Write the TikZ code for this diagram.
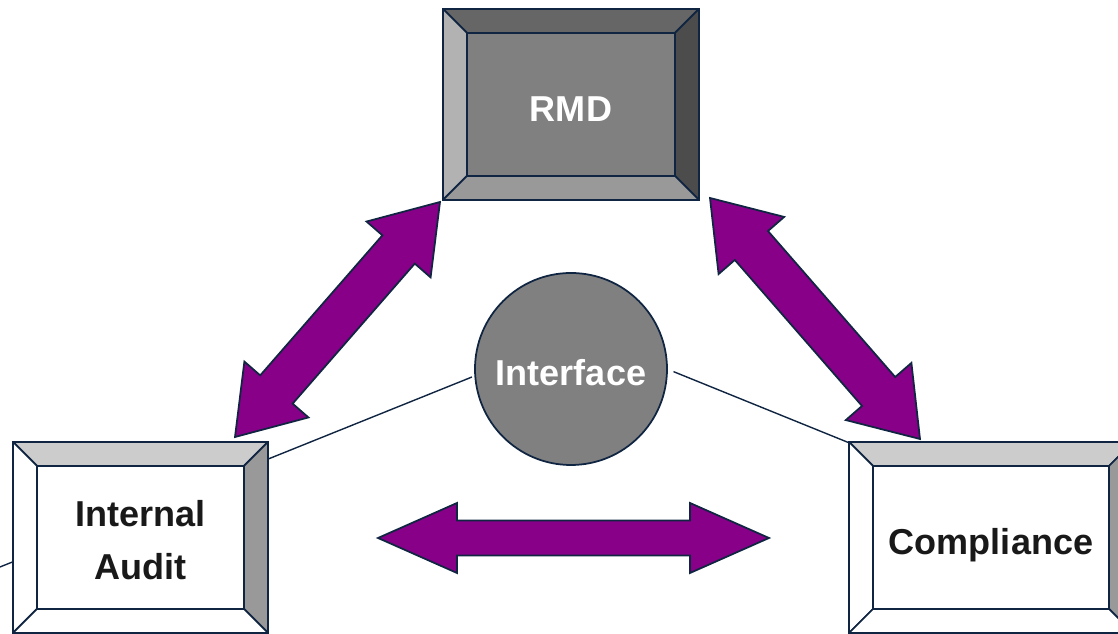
\documentclass[tikz,border=0pt]{standalone}
\usepackage{fontspec}
\setmainfont{Liberation Sans}
\usetikzlibrary{calc}
\definecolor{outline}{RGB}{16,37,66}
\definecolor{plum}{RGB}{136,0,136}

% frame of four bevel faces round a box node: node, top, left, right, bottom
\newcommand\bevelframe[5]{%
  \draw[frame,fill=#2] (#1.north west) -- (#1.north east) -- ([shift={(-\bv,-\bv)}]#1.north east) -- ([shift={(\bv,-\bv)}]#1.north west) -- cycle;
  \draw[frame,fill=#3] (#1.north west) -- ([shift={(\bv,-\bv)}]#1.north west) -- ([shift={(\bv,\bv)}]#1.south west) -- (#1.south west) -- cycle;
  \draw[frame,fill=#4] (#1.north east) -- (#1.south east) -- ([shift={(-\bv,\bv)}]#1.south east) -- ([shift={(-\bv,-\bv)}]#1.north east) -- cycle;
  \draw[frame,fill=#5] (#1.south west) -- ([shift={(\bv,\bv)}]#1.south west) -- ([shift={(-\bv,\bv)}]#1.south east) -- (#1.south east) -- cycle;}

% block arrow with a head at both ends: tips, head length, head half width, shaft half width
\newcommand\twoway[5]{%
  \draw[blockarrow] (#1)
    -- ($(#1)!#3!(#2)!#4!90:(#2)$) -- ($(#1)!#3!(#2)!#5!90:(#2)$)
    -- ($(#2)!#3!(#1)!#5!-90:(#1)$) -- ($(#2)!#3!(#1)!#4!-90:(#1)$)
    -- (#2)
    -- ($(#2)!#3!(#1)!#4!90:(#1)$) -- ($(#2)!#3!(#1)!#5!90:(#1)$)
    -- ($(#1)!#3!(#2)!#5!-90:(#2)$) -- ($(#1)!#3!(#2)!#4!-90:(#2)$)
    -- cycle;}

\begin{document}
\begin{tikzpicture}[
  label/.style={font=\fontsize{20.5}{30}\selectfont\bfseries,align=center},
  oneline/.style={text height=18.9pt,text depth=0pt},
  box/.style={rectangle,draw=outline,line width=1pt,outer sep=0pt,inner sep=0pt,
              minimum height=3.82cm,label},
  frame/.style={draw=outline,line width=1pt,line join=round},
  hub/.style={circle,draw=outline,line width=1pt,fill=black!50,text=white,
              minimum size=3.84cm,inner sep=0pt,outer sep=0pt,label,oneline},
  link/.style={outline,line width=0.8pt},
  blockarrow/.style={draw=outline,fill=plum,line width=1pt}
]
\def\bv{0.48cm}
\useasboundingbox (0,0) rectangle (22.36,12.68);

% interface hub and the lines running off behind the lower boxes
\node[hub] (iface) at (11.42,5.30) {Interface};
\coordinate (auditend) at (0,1.34);
\coordinate (compend) at (20.00,2.60);
\draw[link,shorten <=2pt] (iface.184) -- (auditend);
\draw[link,shorten <=4pt] (iface.0) -- (compend);

% the three departments
\node[box,oneline,minimum width=5.12cm,fill=black!50,text=white] (rmd) at (11.42,10.59) {RMD};
\node[box,minimum width=5.10cm,fill=white,text=black!90] (audit) at (2.81,1.93) {\rule{0pt}{18pt}Internal\\Audit};
\node[box,oneline,minimum width=5.68cm,fill=white,text=black!90] (comp) at (19.82,1.93) {Compliance};
\bevelframe{rmd}{black!60}{black!30}{black!70}{black!40}
\bevelframe{audit}{black!20}{white}{black!40}{white}
\bevelframe{comp}{black!20}{white}{black!40}{white}

% two-way arrows between the departments
\coordinate (la) at (4.70,3.94);
\coordinate (lb) at (8.80,8.64);
\coordinate (ra) at (14.20,8.72);
\coordinate (rb) at (18.40,3.90);
\coordinate (ha) at (7.56,1.92);
\coordinate (hb) at (15.38,1.92);
\twoway{la}{lb}{1.26cm}{0.85cm}{0.43cm}
\twoway{ra}{rb}{1.26cm}{0.87cm}{0.44cm}
\twoway{ha}{hb}{1.58cm}{0.70cm}{0.35cm}
\end{tikzpicture}
\end{document}
